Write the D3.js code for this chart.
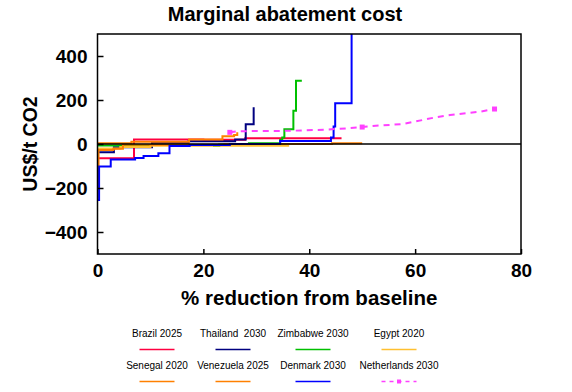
<!DOCTYPE html>
<html>
<head>
<meta charset="utf-8">
<script src="https://cdn.jsdelivr.net/npm/d3@7"></script>
<style>
  body { margin: 0; background: #fff; }
  svg { display: block; font-family: "Liberation Sans", Arial, sans-serif; }
</style>
</head>
<body>
<svg id="chart" width="572" height="392"></svg>
<script>
// step curves: [cumulative % reduction, US$/t CO2]
const brazil2025 = [[0, -65], [6.9, 21], [20, 19], [27.9, 26], [46.1, 26]];
const thailand2030 = [[0, -38], [3.1, -15], [10.3, 6], [17.2, 12], [26.0, 20], [28.0, 90], [29.5, 167]];
const zimbabwe2030 = [[0, -7], [5.3, -4], [22, -9], [23, -2], [28.6, 3], [34.5, 18], [34.9, 30], [35.3, 67], [37.0, 151], [37.5, 288], [38.6, 288]];
const egypt2020 = [[0, -20], [4.3, -14], [10, -8], [36.2, -8]];
const senegal2020 = [[0, -205], [0.2, -27], [3.0, -22], [4.8, -3], [24, 0], [44.3, 3], [50, 3]];
const venezuela2025 = [[0, 3], [6.4, 10], [17.3, 21], [23.6, 35], [25.8, 41], [26.4, 53]];
const denmark2030 = [[0, -255], [0.3, -102], [2.5, -70], [7.1, -64], [8.7, -55], [11.5, -42], [13.6, -9], [17.4, -5], [25, 0], [34.5, 14], [44.1, 30], [44.6, 80], [44.9, 185], [48.0, 700]];
const netherlands2030 = [[25, 53], [26.3, 58], [36.4, 60], [43, 65], [47, 71], [50, 77], [52, 82], [57.8, 91], [63.8, 121], [66.6, 132], [72.3, 147], [75, 159]];
const netherlandsMarkers = [25, 50, 75];

const seriesNames = ["Brazil 2025", "Thailand  2030", "Zimbabwe 2030", "Egypt 2020",
  "Senegal 2020", "Venezuela 2025", "Denmark 2030", "Netherlands 2030"];
const seriesData = [brazil2025, thailand2030, zimbabwe2030, egypt2020,
  senegal2020, venezuela2025, denmark2030, netherlands2030];
const seriesColors = ["#ff0040", "#000080", "#00c000", "#ffc030",
  "#ff8000", "#ff8000", "#0000ff", "#ff40ff"];

const xTicks = [0, 20, 40, 60, 80];
const yTicks = [-400, -200, 0, 200, 400];

const svg = d3.select("#chart");
const plot = { left: 97.5, right: 521, top: 34, bottom: 254 };

const x = d3.scaleLinear().domain([0, 80]).range([plot.left, plot.right]);
const y = d3.scaleLinear().domain([-500, 500]).range([plot.bottom, plot.top]);

svg.append("clipPath").attr("id", "clip")
  .append("rect")
  .attr("x", plot.left).attr("y", plot.top)
  .attr("width", plot.right - plot.left).attr("height", plot.bottom - plot.top);

// title
svg.append("text")
  .attr("x", 285).attr("y", 21)
  .attr("text-anchor", "middle")
  .attr("font-size", 20).attr("font-weight", "bold")
  .text("Marginal abatement cost");

// series
const stepLine = d3.line()
  .x(d => x(d[0]))
  .y(d => y(d[1]))
  .curve(d3.curveStepAfter);

const smoothLine = d3.line()
  .x(d => x(d[0]))
  .y(d => y(d[1]));

const g = svg.append("g").attr("clip-path", "url(#clip)");

seriesData.forEach((data, i) => {
  const dashed = i === 7;
  g.append("path")
    .datum(data)
    .attr("fill", "none")
    .attr("stroke", seriesColors[i])
    .attr("stroke-width", 2)
    .attr("stroke-dasharray", dashed ? "6,5" : null)
    .attr("d", dashed ? smoothLine : stepLine);
});

g.selectAll("rect.marker")
  .data(netherlandsMarkers)
  .join("rect")
  .attr("class", "marker")
  .attr("x", d => x(d) - 2.5)
  .attr("y", d => y(netherlands2030.find(p => p[0] === d)[1]) - 2.5)
  .attr("width", 5).attr("height", 5)
  .attr("fill", seriesColors[7]);

// zero line
svg.append("line")
  .attr("x1", plot.left).attr("x2", plot.right)
  .attr("y1", y(0)).attr("y2", y(0))
  .attr("stroke", "#000").attr("stroke-width", 1.5);

// axes
const xAxis = svg.append("g")
  .attr("transform", `translate(0,${plot.bottom})`)
  .call(d3.axisBottom(x).tickValues(xTicks).tickSizeInner(-5).tickSizeOuter(0).tickPadding(10));
const yAxis = svg.append("g")
  .attr("transform", `translate(${plot.left},0)`)
  .call(d3.axisLeft(y).tickValues(yTicks).tickSizeInner(-6).tickSizeOuter(0).tickPadding(10));

[xAxis, yAxis].forEach(ax => {
  ax.select(".domain").remove();
  ax.selectAll(".tick line").attr("stroke", "#000").attr("stroke-width", 1.5);
  ax.selectAll(".tick text")
    .attr("font-family", "Liberation Sans, Arial, sans-serif")
    .attr("font-size", 19).attr("font-weight", "bold").attr("fill", "#000");
});

svg.append("rect")
  .attr("x", plot.left).attr("y", plot.top)
  .attr("width", plot.right - plot.left).attr("height", plot.bottom - plot.top)
  .attr("fill", "none").attr("stroke", "#000").attr("stroke-width", 1.5);

// axis titles
svg.append("text")
  .attr("x", (plot.left + plot.right) / 2).attr("y", 305)
  .attr("text-anchor", "middle")
  .attr("font-size", 20.5).attr("font-weight", "bold")
  .text("% reduction from baseline");

svg.append("text")
  .attr("transform", `translate(37,${y(0)}) rotate(-90)`)
  .attr("text-anchor", "middle")
  .attr("font-size", 19.5).attr("font-weight", "bold")
  .text("US$/t CO2");

// legend, two rows of four
const colX = [157, 233, 313, 399];
const rowY = [337, 369];
seriesNames.forEach((name, i) => {
  const cx = colX[i % 4];
  const ry = rowY[Math.floor(i / 4)];
  svg.append("text")
    .attr("x", cx).attr("y", ry)
    .attr("text-anchor", "middle")
    .attr("font-size", 10)
    .style("white-space", "pre")
    .text(name);
  svg.append("line")
    .attr("x1", cx - 17.5).attr("x2", cx + 17.5)
    .attr("y1", ry + 12.5).attr("y2", ry + 12.5)
    .attr("stroke", seriesColors[i])
    .attr("stroke-width", 1.5)
    .attr("stroke-dasharray", i === 7 ? "4,4" : null);
  if (i === 7) {
    svg.append("rect")
      .attr("x", cx - 2).attr("y", ry + 10.5)
      .attr("width", 4).attr("height", 4)
      .attr("fill", seriesColors[i]);
  }
});
</script>
</body>
</html>
